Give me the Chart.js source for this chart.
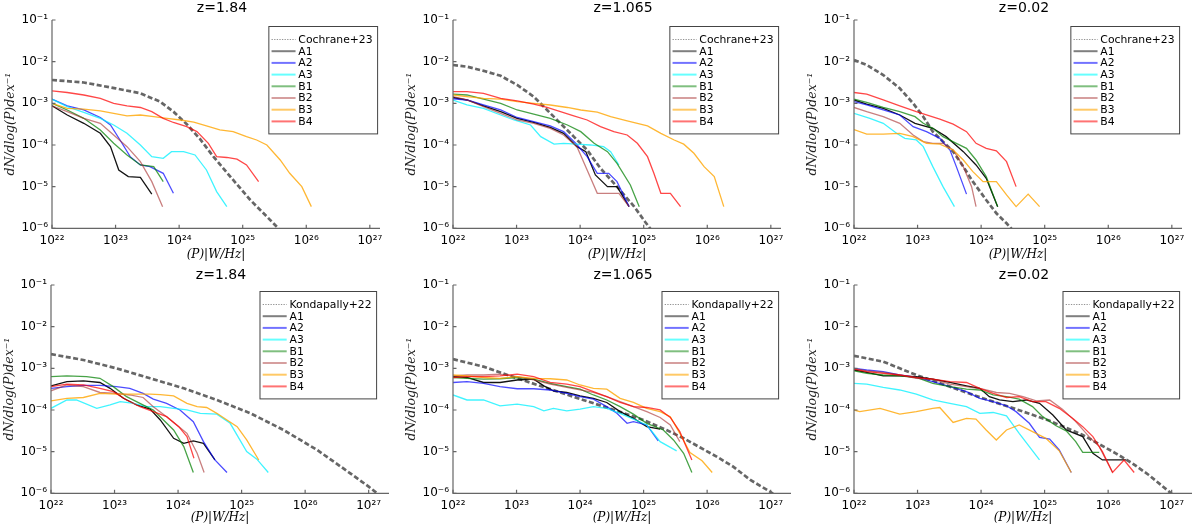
<!DOCTYPE html>
<html>
<head>
<meta charset="utf-8">
<script src="https://cdn.jsdelivr.net/npm/chart.js@4.4.0/dist/chart.umd.min.js"></script>
<style>
  body { margin: 0; background: #fff; width: 1200px; height: 530px; position: relative; overflow: hidden; }
  canvas { position: absolute; }
</style>
</head>
<body>
<script>
// Values as [log10 P (W/Hz), log10 dN/dlog(P)]

const seriesNames = ["A1", "A2", "A3", "B1", "B2", "B3", "B4"];
const panelTitles = ["z=1.84", "z=1.065", "z=0.02"];
const refNames = ["Cochrane+23", "Kondapally+22"];
const xTickExps = [22, 23, 24, 25, 26, 27];
const yTickExps = [-6, -5, -4, -3, -2, -1];

// ---- top row, z=1.84 ----
const top184_ref = [[22.0,-2.44],[22.5,-2.5],[23.0,-2.64],[23.39,-2.76],[23.7,-2.96],[23.91,-3.2],[24.12,-3.5],[24.33,-3.86],[24.54,-4.28],[24.85,-4.84],[25.12,-5.32],[25.38,-5.72],[25.56,-6.0],[25.7,-6.25]];
const top184_A1 = [[22.0,-3.06],[22.24,-3.28],[22.5,-3.48],[22.76,-3.72],[22.92,-4.04],[23.05,-4.6],[23.2,-4.76],[23.39,-4.78],[23.57,-5.18]];
const top184_A2 = [[22.0,-2.9],[22.24,-3.06],[22.5,-3.16],[22.76,-3.34],[22.92,-3.52],[23.07,-3.88],[23.23,-4.28],[23.39,-4.48],[23.54,-4.52],[23.75,-4.68],[23.91,-5.16]];
const top184_A3 = [[22.0,-2.9],[22.24,-3.08],[22.5,-3.22],[22.76,-3.36],[22.97,-3.52],[23.18,-3.72],[23.39,-4.0],[23.57,-4.28],[23.75,-4.32],[23.88,-4.16],[24.07,-4.16],[24.25,-4.24],[24.43,-4.6],[24.59,-5.12],[24.75,-5.48]];
const top184_B1 = [[22.0,-3.0],[22.24,-3.16],[22.5,-3.36],[22.76,-3.64],[22.97,-3.96],[23.18,-4.24],[23.39,-4.48],[23.6,-4.52],[23.75,-4.88]];
const top184_B2 = [[22.0,-3.06],[22.24,-3.2],[22.5,-3.36],[22.76,-3.48],[22.97,-3.76],[23.18,-4.04],[23.39,-4.4],[23.57,-4.88],[23.74,-5.48]];
const top184_B3 = [[22.0,-3.0],[22.24,-3.12],[22.5,-3.14],[22.76,-3.18],[22.97,-3.24],[23.18,-3.3],[23.39,-3.28],[23.6,-3.32],[23.81,-3.36],[24.02,-3.4],[24.23,-3.45],[24.43,-3.54],[24.64,-3.64],[24.85,-3.68],[25.06,-3.8],[25.22,-3.88],[25.38,-4.0],[25.59,-4.36],[25.74,-4.68],[25.93,-5.0],[26.08,-5.48]];
const top184_B4 = [[22.0,-2.7],[22.24,-2.74],[22.5,-2.8],[22.76,-2.88],[22.97,-3.0],[23.18,-3.06],[23.39,-3.1],[23.57,-3.2],[23.75,-3.36],[23.91,-3.46],[24.12,-3.56],[24.28,-3.68],[24.46,-3.96],[24.59,-4.28],[24.75,-4.3],[24.91,-4.34],[25.06,-4.48],[25.25,-4.88]];

// ---- top row, z=1.065 ----
const top1065_ref = [[22.0,-2.08],[22.22,-2.12],[22.48,-2.22],[22.75,-2.34],[23.01,-2.56],[23.27,-2.84],[23.48,-3.16],[23.69,-3.48],[23.9,-3.8],[24.11,-4.12],[24.32,-4.56],[24.58,-5.0],[24.85,-5.48],[25.03,-5.86],[25.15,-6.1]];
const top1065_A1 = [[22.0,-2.86],[22.22,-2.92],[22.48,-3.06],[22.75,-3.2],[23.01,-3.36],[23.27,-3.46],[23.53,-3.58],[23.74,-3.72],[23.95,-4.04],[24.09,-4.16],[24.24,-4.72],[24.43,-5.0],[24.58,-5.0],[24.77,-5.48]];
const top1065_A2 = [[22.0,-2.89],[22.22,-2.92],[22.48,-3.04],[22.75,-3.16],[23.01,-3.34],[23.27,-3.44],[23.53,-3.54],[23.74,-3.68],[23.93,-3.96],[24.11,-4.28],[24.27,-4.68],[24.45,-4.68],[24.58,-4.88],[24.77,-5.48]];
const top1065_A3 = [[22.0,-2.92],[22.22,-3.04],[22.48,-3.12],[22.75,-3.28],[22.96,-3.4],[23.22,-3.52],[23.38,-3.8],[23.59,-3.98],[23.74,-3.96],[23.95,-3.98],[24.16,-4.0],[24.37,-4.04],[24.48,-4.16],[24.61,-4.48]];
const top1065_B1 = [[22.0,-2.78],[22.22,-2.8],[22.48,-2.9],[22.75,-3.0],[23.01,-3.16],[23.27,-3.26],[23.53,-3.36],[23.8,-3.52],[24.01,-3.68],[24.22,-3.96],[24.43,-4.16],[24.58,-4.44],[24.79,-4.96],[24.93,-5.48]];
const top1065_B2 = [[22.0,-2.84],[22.22,-2.92],[22.48,-3.08],[22.75,-3.24],[23.01,-3.4],[23.27,-3.48],[23.53,-3.6],[23.74,-3.76],[23.95,-4.04],[24.11,-4.6],[24.27,-5.16],[24.43,-5.16],[24.61,-5.16],[24.77,-5.48]];
const top1065_B3 = [[22.0,-2.8],[22.22,-2.84],[22.48,-2.88],[22.75,-2.9],[23.01,-2.96],[23.27,-3.0],[23.53,-3.04],[23.8,-3.1],[24.01,-3.16],[24.27,-3.21],[24.48,-3.32],[24.74,-3.42],[25.06,-3.54],[25.27,-3.72],[25.48,-3.88],[25.63,-3.98],[25.79,-4.2],[25.95,-4.52],[26.11,-4.76],[26.26,-5.48]];
const top1065_B4 = [[22.0,-2.72],[22.22,-2.72],[22.48,-2.76],[22.75,-2.88],[23.01,-2.94],[23.27,-3.02],[23.48,-3.1],[23.69,-3.2],[23.9,-3.3],[24.11,-3.4],[24.32,-3.56],[24.53,-3.68],[24.74,-3.76],[24.9,-3.96],[25.06,-4.28],[25.16,-4.68],[25.27,-5.16],[25.42,-5.16],[25.58,-5.48]];

// ---- top row, z=0.02 ----
const top002_ref = [[22.0,-1.96],[22.2,-2.08],[22.46,-2.32],[22.72,-2.64],[22.93,-3.0],[23.09,-3.32],[23.24,-3.68],[23.4,-3.92],[23.56,-4.16],[23.72,-4.52],[23.87,-4.88],[24.08,-5.32],[24.24,-5.64],[24.4,-5.88],[24.5,-6.05]];
const top002_A1 = [[22.0,-2.92],[22.2,-3.02],[22.46,-3.12],[22.72,-3.28],[22.96,-3.48],[23.24,-3.6],[23.45,-3.8],[23.72,-4.16],[23.92,-4.48],[24.08,-4.8],[24.26,-5.48]];
const top002_A2 = [[22.0,-2.96],[22.2,-3.04],[22.46,-3.16],[22.72,-3.28],[22.93,-3.56],[23.14,-3.68],[23.35,-3.84],[23.51,-4.12],[23.61,-4.52],[23.77,-5.18]];
const top002_A3 = [[22.0,-3.24],[22.25,-3.36],[22.46,-3.48],[22.67,-3.72],[22.8,-3.84],[22.98,-3.88],[23.09,-4.04],[23.24,-4.52],[23.4,-5.0],[23.58,-5.48]];
const top002_B1 = [[22.0,-2.9],[22.2,-2.98],[22.46,-3.1],[22.72,-3.2],[22.96,-3.32],[23.09,-3.48],[23.24,-3.6],[23.4,-3.8],[23.61,-3.96],[23.77,-4.08],[23.92,-4.36],[24.08,-4.76],[24.26,-5.48]];
const top002_B2 = [[22.0,-3.1],[22.2,-3.2],[22.46,-3.32],[22.72,-3.48],[22.93,-3.76],[23.09,-3.92],[23.24,-3.96],[23.4,-3.96],[23.56,-4.12],[23.72,-4.52],[23.85,-5.0],[23.92,-5.48]];
const top002_B3 = [[22.0,-3.63],[22.2,-3.74],[22.46,-3.74],[22.72,-3.72],[22.93,-3.8],[23.14,-3.96],[23.35,-3.98],[23.56,-4.12],[23.72,-4.36],[23.87,-4.64],[24.03,-4.88],[24.24,-4.88],[24.4,-5.2],[24.55,-5.48],[24.74,-5.18],[24.92,-5.48]];
const top002_B4 = [[22.0,-2.74],[22.2,-2.78],[22.46,-2.92],[22.72,-3.06],[22.98,-3.2],[23.14,-3.28],[23.35,-3.38],[23.56,-3.5],[23.77,-3.68],[23.92,-3.96],[24.08,-4.08],[24.24,-4.14],[24.4,-4.4],[24.55,-5.0]];

// ---- bottom row, z=1.84 ----
const bot184_ref = [[22.0,-2.66],[22.51,-2.8],[23.03,-3.0],[23.56,-3.24],[24.09,-3.48],[24.61,-3.76],[25.14,-4.08],[25.66,-4.48],[26.19,-4.96],[26.71,-5.52],[27.0,-5.84],[27.25,-6.14]];
const bot184_A1 = [[22.0,-3.42],[22.25,-3.32],[22.51,-3.3],[22.77,-3.34],[22.93,-3.48],[23.14,-3.72],[23.35,-3.88],[23.56,-3.98],[23.72,-4.24],[23.93,-4.68],[24.09,-4.8],[24.24,-4.74],[24.4,-4.8],[24.58,-5.2]];
const bot184_A2 = [[22.0,-3.48],[22.25,-3.44],[22.51,-3.41],[22.77,-3.41],[23.03,-3.44],[23.24,-3.48],[23.45,-3.6],[23.61,-3.74],[23.82,-3.84],[24.03,-4.0],[24.24,-4.28],[24.4,-4.76],[24.58,-5.2],[24.77,-5.5]];
const bot184_A3 = [[22.0,-3.96],[22.25,-3.76],[22.4,-3.76],[22.72,-3.96],[22.93,-3.88],[23.09,-3.8],[23.3,-3.84],[23.51,-3.92],[23.72,-3.92],[23.93,-3.96],[24.14,-4.0],[24.35,-4.08],[24.61,-4.1],[24.82,-4.32],[25.08,-5.0],[25.24,-5.18],[25.42,-5.5]];
const bot184_B1 = [[22.0,-3.2],[22.25,-3.18],[22.56,-3.2],[22.77,-3.24],[22.98,-3.44],[23.19,-3.68],[23.4,-3.84],[23.61,-4.0],[23.77,-4.24],[23.93,-4.48],[24.09,-4.88],[24.24,-5.5]];
const bot184_B2 = [[22.0,-3.54],[22.25,-3.4],[22.51,-3.44],[22.77,-3.58],[23.03,-3.6],[23.24,-3.64],[23.45,-3.7],[23.61,-3.92],[23.82,-4.16],[23.98,-4.36],[24.14,-4.56],[24.3,-5.04],[24.41,-5.5]];
const bot184_B3 = [[22.0,-3.78],[22.25,-3.72],[22.51,-3.7],[22.77,-3.6],[23.03,-3.62],[23.3,-3.62],[23.56,-3.62],[23.72,-3.63],[23.93,-3.66],[24.14,-3.84],[24.3,-3.92],[24.45,-3.94],[24.61,-4.08],[24.77,-4.24],[24.93,-4.4],[25.08,-4.72],[25.27,-5.2]];
const bot184_B4 = [[22.0,-3.44],[22.25,-3.38],[22.51,-3.4],[22.77,-3.48],[22.98,-3.56],[23.19,-3.76],[23.4,-3.92],[23.61,-4.04],[23.82,-4.16],[24.01,-4.4],[24.14,-4.64],[24.25,-5.16]];

// ---- bottom row, z=1.065 ----
const bot1065_ref = [[22.0,-2.78],[22.48,-2.96],[23.01,-3.24],[23.53,-3.5],[24.05,-3.76],[24.58,-4.02],[25.0,-4.24],[25.36,-4.48],[25.63,-4.68],[25.89,-4.9],[26.15,-5.12],[26.41,-5.36],[26.68,-5.68],[26.99,-5.96],[27.2,-6.2]];
const bot1065_A1 = [[22.0,-3.2],[22.22,-3.22],[22.48,-3.34],[22.74,-3.34],[23.01,-3.28],[23.27,-3.26],[23.43,-3.42],[23.58,-3.54],[23.79,-3.58],[24.0,-3.66],[24.21,-3.72],[24.42,-3.82],[24.63,-4.04],[24.84,-4.2],[25.05,-4.4],[25.26,-4.46]];
const bot1065_A2 = [[22.0,-3.34],[22.22,-3.32],[22.48,-3.36],[22.74,-3.44],[23.01,-3.49],[23.27,-3.49],[23.53,-3.52],[23.79,-3.6],[24.0,-3.68],[24.21,-3.74],[24.42,-3.92],[24.58,-4.08],[24.74,-4.32],[24.84,-4.28],[25.05,-4.36],[25.23,-4.74]];
const bot1065_A3 = [[22.0,-3.64],[22.22,-3.76],[22.48,-3.76],[22.74,-3.9],[23.01,-3.86],[23.27,-3.92],[23.43,-4.02],[23.58,-3.96],[23.79,-4.02],[24.0,-3.98],[24.21,-3.92],[24.42,-3.96],[24.63,-4.08],[24.84,-4.22],[25.05,-4.36],[25.26,-4.76],[25.52,-4.98]];
const bot1065_B1 = [[22.0,-3.22],[22.22,-3.24],[22.48,-3.26],[22.74,-3.25],[23.01,-3.22],[23.27,-3.26],[23.53,-3.36],[23.79,-3.44],[24.0,-3.5],[24.21,-3.64],[24.42,-3.76],[24.63,-3.92],[24.84,-4.1],[25.05,-4.32],[25.31,-4.48],[25.47,-4.72],[25.63,-5.04],[25.76,-5.5]];
const bot1065_B2 = [[22.0,-3.18],[22.22,-3.16],[22.48,-3.16],[22.74,-3.14],[23.01,-3.2],[23.27,-3.28],[23.53,-3.38],[23.79,-3.46],[24.0,-3.52],[24.21,-3.58],[24.42,-3.68],[24.63,-3.8],[24.84,-3.92],[25.05,-4.04],[25.26,-4.18],[25.42,-4.36],[25.57,-4.76]];
const bot1065_B3 = [[22.0,-3.16],[22.22,-3.18],[22.48,-3.22],[22.74,-3.24],[23.01,-3.2],[23.27,-3.24],[23.53,-3.25],[23.79,-3.28],[24.0,-3.4],[24.21,-3.48],[24.42,-3.5],[24.63,-3.72],[24.84,-3.82],[25.05,-3.96],[25.26,-4.04],[25.42,-4.16],[25.57,-4.56],[25.73,-5.02],[25.92,-5.22],[26.08,-5.5]];
const bot1065_B4 = [[22.0,-3.22],[22.22,-3.2],[22.48,-3.2],[22.74,-3.18],[23.01,-3.14],[23.27,-3.2],[23.53,-3.34],[23.79,-3.38],[24.0,-3.44],[24.21,-3.56],[24.42,-3.68],[24.63,-3.82],[24.84,-3.92],[25.05,-3.94],[25.26,-4.0],[25.42,-4.18],[25.57,-4.52],[25.76,-5.2]];

// ---- bottom row, z=0.02 ----
const bot002_ref = [[22.0,-2.7],[22.46,-2.84],[22.98,-3.16],[23.51,-3.44],[24.03,-3.72],[24.55,-3.98],[25.08,-4.26],[25.6,-4.6],[26.12,-5.04],[26.38,-5.28],[26.64,-5.56],[26.96,-5.96],[27.2,-6.28]];
const bot002_A1 = [[22.0,-3.04],[22.2,-3.1],[22.46,-3.18],[22.72,-3.18],[22.98,-3.2],[23.24,-3.26],[23.51,-3.34],[23.77,-3.42],[23.98,-3.48],[24.13,-3.68],[24.29,-3.76],[24.5,-3.8],[24.71,-3.76],[24.92,-3.84],[25.13,-4.12],[25.34,-4.48],[25.6,-4.64],[25.76,-5.04],[25.91,-5.2],[26.28,-5.2]];
const bot002_A2 = [[22.0,-3.0],[22.2,-3.04],[22.46,-3.08],[22.72,-3.16],[22.98,-3.22],[23.24,-3.32],[23.51,-3.44],[23.77,-3.56],[23.98,-3.72],[24.19,-3.8],[24.4,-3.9],[24.55,-4.04],[24.76,-4.32],[24.92,-4.66],[25.08,-4.7],[25.23,-4.96],[25.42,-5.5]];
const bot002_A3 = [[22.0,-3.36],[22.2,-3.38],[22.46,-3.46],[22.72,-3.52],[22.98,-3.62],[23.24,-3.76],[23.51,-3.84],[23.77,-3.92],[23.98,-4.08],[24.19,-4.06],[24.4,-4.14],[24.6,-4.56],[24.76,-4.88],[24.92,-5.2]];
const bot002_B1 = [[22.0,-3.06],[22.2,-3.12],[22.46,-3.16],[22.72,-3.18],[22.98,-3.22],[23.24,-3.36],[23.51,-3.44],[23.77,-3.5],[23.98,-3.52],[24.19,-3.64],[24.4,-3.68],[24.6,-3.74],[24.81,-3.92],[24.97,-4.16],[25.18,-4.38],[25.34,-4.5],[25.49,-4.76],[25.6,-5.02],[25.86,-5.02]];
const bot002_B2 = [[22.0,-3.0],[22.2,-3.06],[22.46,-3.1],[22.72,-3.16],[22.98,-3.24],[23.24,-3.26],[23.51,-3.38],[23.77,-3.44],[24.03,-3.5],[24.24,-3.58],[24.45,-3.6],[24.66,-3.68],[24.87,-3.78],[25.08,-3.76],[25.28,-3.98],[25.49,-4.28],[25.7,-4.64],[25.86,-4.88],[26.07,-5.5]];
const bot002_B3 = [[22.0,-4.0],[22.09,-4.04],[22.41,-3.96],[22.72,-4.1],[22.98,-4.04],[23.24,-3.96],[23.35,-3.94],[23.56,-4.3],[23.77,-4.2],[23.92,-4.22],[24.08,-4.48],[24.24,-4.72],[24.4,-4.48],[24.6,-4.36],[24.81,-4.52],[25.02,-4.68],[25.23,-4.98],[25.42,-5.5]];
const bot002_B4 = [[22.0,-3.02],[22.2,-3.08],[22.46,-3.12],[22.72,-3.16],[22.98,-3.22],[23.24,-3.26],[23.51,-3.32],[23.77,-3.34],[23.98,-3.48],[24.19,-3.6],[24.4,-3.7],[24.6,-3.68],[24.81,-3.8],[25.02,-3.8],[25.23,-3.96],[25.44,-4.2],[25.6,-4.4],[25.76,-4.64],[25.91,-5.0],[26.07,-5.5],[26.25,-5.2],[26.41,-5.5]];

// line colours, in seriesNames order
const seriesColors = ["rgba(0,0,0,0.92)", "rgba(0,0,255,0.7)", "rgba(0,240,255,0.75)", "rgba(0,128,0,0.72)", "rgba(165,42,42,0.6)", "rgba(255,165,0,0.8)", "rgba(255,0,0,0.72)"];
const legendColors = ["rgba(0,0,0,0.5)", "rgba(0,0,255,0.55)", "rgba(0,255,255,0.6)", "rgba(0,128,0,0.5)", "rgba(165,42,42,0.45)", "rgba(255,165,0,0.6)", "rgba(255,0,0,0.55)"];

const panels = [
  { row: 0, col: 0, ref: top184_ref, series: [top184_A1, top184_A2, top184_A3, top184_B1, top184_B2, top184_B3, top184_B4] },
  { row: 0, col: 1, ref: top1065_ref, series: [top1065_A1, top1065_A2, top1065_A3, top1065_B1, top1065_B2, top1065_B3, top1065_B4] },
  { row: 0, col: 2, ref: top002_ref, series: [top002_A1, top002_A2, top002_A3, top002_B1, top002_B2, top002_B3, top002_B4] },
  { row: 1, col: 0, ref: bot184_ref, series: [bot184_A1, bot184_A2, bot184_A3, bot184_B1, bot184_B2, bot184_B3, bot184_B4] },
  { row: 1, col: 1, ref: bot1065_ref, series: [bot1065_A1, bot1065_A2, bot1065_A3, bot1065_B1, bot1065_B2, bot1065_B3, bot1065_B4] },
  { row: 1, col: 2, ref: bot002_ref, series: [bot002_A1, bot002_A2, bot002_A3, bot002_B1, bot002_B2, bot002_B3, bot002_B4] }
];

// page layout of the two rows
const rows = [
  { canvasTop: 0, canvasH: 262, xH: 33.7, xMax: 27.16, titleY: 8, xTitlePad: 0, lefts: [51.7, 452.7, 854] },
  { canvasTop: 265, canvasH: 265, xH: 36.7, xMax: 27.32, titleY: 10.8, xTitlePad: 4.8, lefts: [51, 452.7, 854] }
];

const sup = { "0": "⁰", "1": "¹", "2": "²", "3": "³", "4": "⁴", "5": "⁵", "6": "⁶", "7": "⁷", "8": "⁸", "9": "⁹", "-": "⁻" };
function powLabel(v) {
  const e = Math.round(Math.log10(v));
  return "10" + String(e).split("").map(c => sup[c]).join("");
}
function toPoints(pairs) {
  return pairs.map(([lp, ln]) => ({ x: 10 ** lp, y: 10 ** ln }));
}

// axes lines, inward ticks, panel title and boxed legend
const panelDecor = {
  id: "panelDecor",
  afterDraw(chart, args, opts) {
    const { ctx, chartArea: a, scales: { x, y } } = chart;
    ctx.save();
    ctx.strokeStyle = "#666";
    ctx.lineWidth = 1.2;
    ctx.beginPath();
    ctx.moveTo(a.left, a.top);
    ctx.lineTo(a.left, a.bottom);
    ctx.lineTo(a.right, a.bottom);
    ctx.stroke();
    ctx.beginPath();
    xTickExps.forEach(e => {
      const px = x.getPixelForValue(10 ** e);
      ctx.moveTo(px, a.bottom); ctx.lineTo(px, a.bottom - 3.5);
    });
    yTickExps.forEach(e => {
      const py = y.getPixelForValue(10 ** e);
      ctx.moveTo(a.left, py); ctx.lineTo(a.left + 3.5, py);
    });
    ctx.stroke();

    ctx.fillStyle = "#000";
    ctx.font = '14px "DejaVu Sans"';
    ctx.textAlign = "center";
    ctx.textBaseline = "middle";
    ctx.fillText(opts.title, a.left + 170, opts.titleY);

    // legend
    const items = chart.data.datasets;
    ctx.font = '10.8px "DejaVu Sans"';
    const textW = Math.max(...items.map(d => ctx.measureText(d.label).width));
    const rowH = 11.7;
    const boxW = 29.5 + textW + 5;
    const boxH = 13 + rowH * (items.length - 1) + 12.5;
    const boxRight = a.left + 325.6;
    const boxLeft = boxRight - boxW;
    const boxTop = a.top + 6.5;
    ctx.fillStyle = "#fff";
    ctx.fillRect(boxLeft, boxTop, boxW, boxH);
    ctx.strokeStyle = "#444";
    ctx.lineWidth = 1;
    ctx.strokeRect(boxLeft, boxTop, boxW, boxH);
    items.forEach((d, i) => {
      const ry = boxTop + 13 + i * rowH;
      ctx.beginPath();
      ctx.strokeStyle = d.legendColor;
      ctx.lineWidth = d.legendWidth;
      ctx.setLineDash(d.legendDash);
      ctx.moveTo(boxLeft + 2.7, ry);
      ctx.lineTo(boxLeft + 26.7, ry);
      ctx.stroke();
      ctx.setLineDash([]);
      ctx.fillStyle = "#000";
      ctx.textAlign = "left";
      ctx.fillText(d.label, boxLeft + 29.5, ry + 0.5);
    });
    ctx.restore();
  }
};

panels.forEach(p => {
  const row = rows[p.row];
  const chartLeft = row.lefts[p.col];
  const yW = 50, padR = 16;
  const chartW = (row.xMax - 22) * 63.6;
  const cw = Math.round(yW + chartW + padR);
  const ch = row.canvasH;

  const canvas = document.createElement("canvas");
  canvas.width = cw;
  canvas.height = ch;
  canvas.style.left = (chartLeft - yW) + "px";
  canvas.style.top = row.canvasTop + "px";
  canvas.style.width = cw + "px";
  canvas.style.height = ch + "px";
  document.body.appendChild(canvas);

  const datasets = [{
    label: refNames[p.row],
    data: toPoints(p.ref),
    borderColor: "rgba(85,85,85,0.9)",
    borderWidth: 2.7,
    borderDash: [5, 2.5],
    order: 10,
    legendColor: "rgba(120,120,120,0.8)",
    legendWidth: 1.2,
    legendDash: [1.3, 1.3]
  }];
  p.series.forEach((s, i) => {
    datasets.push({
      label: seriesNames[i],
      data: toPoints(s),
      borderColor: seriesColors[i],
      borderWidth: 1.3,
      order: 7 - i,
      legendColor: legendColors[i],
      legendWidth: 2,
      legendDash: []
    });
  });

  new Chart(canvas, {
    type: "line",
    data: { datasets },
    options: {
      responsive: false,
      animation: false,
      events: [],
      parsing: true,
      elements: { point: { radius: 0 }, line: { tension: 0, fill: false } },
      layout: { padding: { left: 0, top: 20, right: padR, bottom: 0 } },
      plugins: {
        legend: { display: false },
        tooltip: { enabled: false },
        panelDecor: { title: panelTitles[p.col], titleY: row.titleY }
      },
      scales: {
        x: {
          type: "logarithmic",
          position: "bottom",
          min: 1e22,
          max: 10 ** row.xMax,
          afterBuildTicks: s => { s.ticks = xTickExps.map(e => ({ value: 10 ** e })); },
          afterFit: s => { s.height = row.xH; },
          grid: { display: false, drawTicks: false },
          border: { display: false },
          ticks: {
            autoSkip: false, maxRotation: 0, minRotation: 0, padding: 5, color: "#000",
            font: { family: "DejaVu Sans", size: 12 },
            callback: v => powLabel(v)
          },
          title: {
            display: true, text: "(P)|W/Hz|", color: "#000",
            font: { family: "DejaVu Serif", style: "italic", size: 12 },
            padding: { top: 0, bottom: row.xTitlePad }
          }
        },
        y: {
          type: "logarithmic",
          position: "left",
          min: 1e-6,
          max: 1e-1,
          afterBuildTicks: s => { s.ticks = yTickExps.map(e => ({ value: 10 ** e })); },
          afterFit: s => { s.width = yW; },
          grid: { display: false, drawTicks: false },
          border: { display: false },
          ticks: {
            autoSkip: false, padding: 4, color: "#000",
            font: { family: "DejaVu Sans", size: 12 },
            callback: v => powLabel(v)
          },
          title: {
            display: true, text: "dN/dlog(P)dex⁻¹", color: "#222",
            font: { family: "DejaVu Serif", style: "italic", size: 12.5 },
            padding: { top: 1, bottom: 0 }
          }
        }
      }
    },
    plugins: [panelDecor]
  });
});
</script>
</body>
</html>
